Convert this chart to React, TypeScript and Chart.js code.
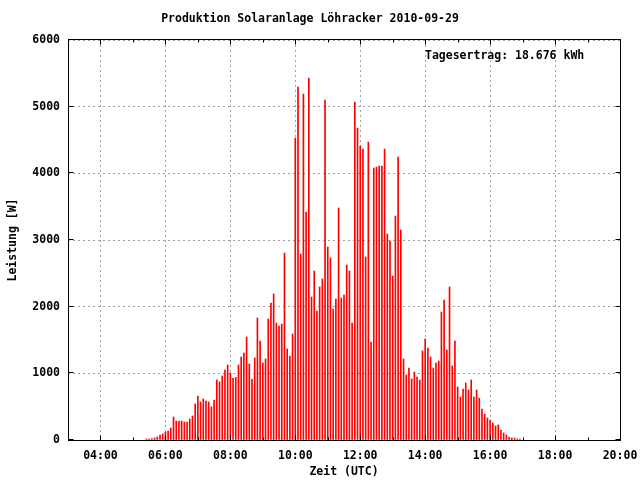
import React, { useEffect, useRef } from 'react';
import { Chart, registerables } from 'chart.js';

Chart.register(...registerables);

// ---- data ----
const CHART_TITLE = 'Produktion Solaranlage Löhracker 2010-09-29';
const X_TITLE = 'Zeit (UTC)';
const Y_TITLE = 'Leistung [W]';
const ANNOTATION = 'Tagesertrag: 18.676 kWh';

// first sample 05:25 UTC, one sample every 5 minutes
const FIRST_SAMPLE_HOUR = 5;
const FIRST_SAMPLE_MINUTE = 25;
const SAMPLE_STEP_MINUTES = 5;

// 05:25 - 08:00
const POWER_EARLY = [15, 15, 20, 30, 45, 75, 90, 120, 135, 180, 345, 285, 285, 285, 270, 270, 315, 360, 540, 660, 570, 615, 585, 570, 495, 600, 900, 870, 960, 1050, 1125, 1005];
// 08:05 - 10:25
const POWER_MORNING = [925, 940, 1125, 1245, 1305, 1545, 1140, 910, 1230, 1830, 1485, 1155, 1215, 1815, 2055, 2190, 1755, 1710, 1740, 2805, 1365, 1260, 1590, 4530, 5295, 2790, 5190, 3420, 5430];
// 10:30 - 14:45
const POWER_MIDDAY = [2145, 2535, 1935, 2295, 2415, 5100, 2895, 2730, 1965, 2115, 3480, 2130, 2175, 2625, 2535, 1755, 5070, 4680, 4410, 4365, 2745, 4470, 1470, 4080, 4095, 4110, 4110, 4365, 3090, 2985, 2460, 3360, 4245, 3150, 1215, 975, 1080, 915, 1020, 945, 900, 1335, 1515, 1380, 1245, 1080, 1155, 1185, 1920, 2100, 1350, 2295];
// 14:50 - 16:55
const POWER_AFTERNOON = [1110, 1485, 795, 645, 765, 855, 750, 900, 645, 750, 630, 465, 390, 330, 300, 255, 210, 225, 150, 105, 75, 45, 30, 30, 15, 15];

const X_MIN_HOUR = 3;
const X_MAX_HOUR = 20;
const X_MAJOR_TICKS = [4, 6, 8, 10, 12, 14, 16, 18, 20];
const X_MINOR_TICKS = [5, 7, 9, 11, 13, 15, 17, 19];
const Y_TICKS = [0, 1000, 2000, 3000, 4000, 5000, 6000];

const FONT = { family: "'DejaVu Sans Mono', monospace", size: 11.5, weight: 'bold' as const, lineHeight: 1.2 };

const fmtHour = (v: number) => {
  const h = Math.floor(v);
  const m = Math.round((v - h) * 60);
  return String(h).padStart(2, '0') + ':' + String(m).padStart(2, '0');
};

const framePlugin = {
  id: 'gnuFrame',
  afterDatasetsDraw(chart: any) {
    const { ctx, chartArea: a, scales } = chart;
    const xs = scales.x;
    const ys = scales.y;
    const L = Math.floor(a.left) + 0.5;
    const R = Math.floor(a.right) + 0.5;
    const T = Math.floor(a.top) - 0.5;
    const B = Math.floor(a.bottom) + 0.5;
    ctx.save();
    ctx.strokeStyle = '#000';
    ctx.lineWidth = 1;
    ctx.beginPath();
    const tick = (v: number, len: number) => {
      const px = Math.round(xs.getPixelForValue(v)) + 0.5;
      ctx.moveTo(px, B);
      ctx.lineTo(px, B - len);
      ctx.moveTo(px, T);
      ctx.lineTo(px, T + len);
    };
    X_MAJOR_TICKS.forEach((v) => tick(v, 5));
    X_MINOR_TICKS.forEach((v) => tick(v, 3));
    Y_TICKS.forEach((v) => {
      const py = Math.round(ys.getPixelForValue(v)) - 0.5;
      ctx.moveTo(L, py);
      ctx.lineTo(L + 5, py);
      ctx.moveTo(R, py);
      ctx.lineTo(R - 5, py);
    });
    ctx.stroke();
    ctx.strokeRect(L, T, R - L, B - T);

    ctx.fillStyle = '#000';
    ctx.font = `${FONT.weight} ${FONT.size}px ${FONT.family}`;
    ctx.textAlign = 'left';
    ctx.textBaseline = 'middle';
    ctx.fillText(ANNOTATION, 425, 56);
    ctx.restore();
  },
};

export default function App() {
  const ref = useRef<HTMLCanvasElement | null>(null);

  useEffect(() => {
    if (!ref.current) return;
    const values = [...POWER_EARLY, ...POWER_MORNING, ...POWER_MIDDAY, ...POWER_AFTERNOON];
    const start = FIRST_SAMPLE_HOUR + FIRST_SAMPLE_MINUTE / 60;
    const points = values.map((y, i) => ({ x: start + (i * SAMPLE_STEP_MINUTES) / 60, y }));

    const chart = new Chart(ref.current, {
      type: 'bar',
      data: {
        datasets: [
          {
            data: points as any,
            backgroundColor: '#ff0000',
            borderWidth: 0,
            barThickness: 1,
          },
        ],
      },
      options: {
        animation: false,
        responsive: false,
        layout: { padding: { left: 0, right: 20, top: 0, bottom: 0 } },
        plugins: {
          legend: { display: false },
          tooltip: { enabled: false },
          title: {
            display: true,
            text: CHART_TITLE,
            color: '#000',
            font: FONT,
            padding: { top: 12, bottom: 14.2 },
          },
        },
        scales: {
          x: {
            type: 'linear',
            min: X_MIN_HOUR,
            max: X_MAX_HOUR,
            offset: false,
            afterBuildTicks: (s: any) => {
              s.ticks = X_MAJOR_TICKS.map((v) => ({ value: v }));
            },
            ticks: {
              padding: 9,
              color: '#000',
              font: FONT,
              maxRotation: 0,
              autoSkip: false,
              callback: (v: any) => fmtHour(Number(v)),
            },
            grid: { color: '#a0a0a0', drawTicks: false, offset: false, lineWidth: 1 },
            border: { display: false, dash: [2, 3] },
            title: { display: true, text: X_TITLE, color: '#000', font: FONT, padding: { top: 0, bottom: 1 } },
            afterFit: (s: any) => {
              s.height = 40;
              s.paddingLeft = 0;
              s.paddingRight = 0;
            },
          },
          y: {
            min: 0,
            max: 6000,
            afterBuildTicks: (s: any) => {
              s.ticks = Y_TICKS.map((v) => ({ value: v }));
            },
            ticks: { padding: 8, color: '#000', font: FONT, callback: (v: any) => String(v) },
            grid: { color: '#a0a0a0', drawTicks: false, lineWidth: 1 },
            border: { display: false, dash: [2, 3] },
            title: { display: true, text: Y_TITLE, color: '#000', font: FONT, padding: { top: 6.5, bottom: 0 } },
            afterFit: (s: any) => {
              s.width = 68;
            },
          },
        },
      },
      plugins: [framePlugin],
    });
    return () => chart.destroy();
  }, []);

  return (
    <div style={{ position: 'fixed', left: 0, top: 0, width: 640, height: 480, background: '#fff' }}>
      <canvas ref={ref} width={640} height={480} style={{ display: 'block' }} />
    </div>
  );
}
